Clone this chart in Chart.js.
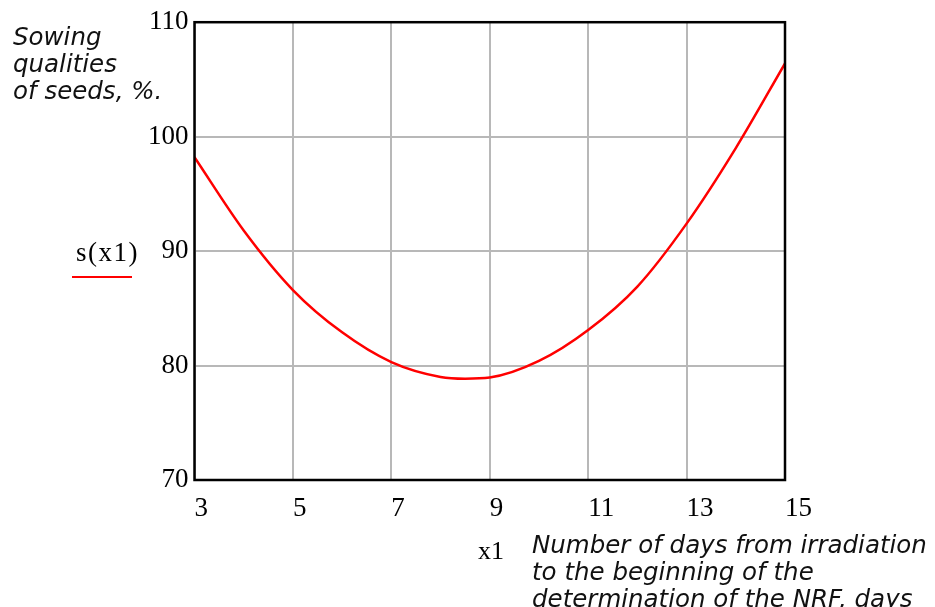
<!DOCTYPE html>
<html>
<head>
<meta charset="utf-8">
<script src="https://cdn.jsdelivr.net/npm/chart.js@4"></script>
<style>
  body { margin: 0; background: #fff; }
  #wrap { position: relative; width: 935px; height: 607px; overflow: hidden; }
  #chart { position: absolute; left: 0; top: 0; }
  .lbl { position: absolute; font-family: "DejaVu Sans", sans-serif; font-style: italic; font-size: 24.5px; line-height: 27px; color: #111; white-space: nowrap; }
  .serif { position: absolute; font-family: "Liberation Serif", serif; color: #000; white-space: nowrap; line-height: 1; }
  #legendLine { position: absolute; left: 72px; top: 276px; width: 60px; height: 2px; background: #ff0000; }
</style>
</head>
<body>
<div id="wrap">
  <canvas id="chart" width="935" height="607"></canvas>
  <div class="lbl" style="left:13px; top:23px;">Sowing<br>qualities<br>of seeds, %.</div>
  <div class="serif" style="left:76px; top:239px; font-size:27px; letter-spacing:1.5px;">s(x1)</div>
  <div id="legendLine"></div>
  <div class="serif" style="left:478px; top:538px; font-size:26px;">x1</div>
  <div class="lbl" style="left:532px; top:531px;">Number of days from irradiation<br>to the beginning of the<br>determination of the NRF, days</div>
</div>
<script>
// days from irradiation (x1) and sowing qualities s(x1), %
const days = [3, 4, 5, 6, 7, 8, 8.5, 9, 10, 11, 12, 13, 14, 15];
const sowing = [98.2, 91.8, 86.6, 82.9, 80.3, 79.0, 78.85, 78.95, 80.4, 83.1, 86.9, 92.4, 99.0, 106.4];

const xTicks = [3, 5, 7, 9, 11, 13, 15];
const yTicks = [70, 80, 90, 100, 110];

const points = days.map((d, i) => ({ x: d, y: sowing[i] }));

// black frame round the plot area
const frame = {
    id: "frame",
    afterDatasetsDraw(chart) {
        const { ctx, chartArea: a } = chart;
        ctx.save();
        ctx.strokeStyle = "#000";
        ctx.lineWidth = 2.5;
        ctx.strokeRect(a.left, a.top, a.right - a.left, a.bottom - a.top);
        ctx.restore();
    }
};

const tickFont = { family: "Liberation Serif", size: 27 };

new Chart(document.getElementById("chart").getContext("2d"), {
    type: "line",
    data: {
        datasets: [{
            data: points,
            borderColor: "#ff0000",
            borderWidth: 2.5,
            pointRadius: 0,
            fill: false,
            cubicInterpolationMode: "monotone"
        }]
    },
    options: {
        responsive: false,
        animation: false,
        layout: { padding: { left: 134.5, top: 21, right: 150, bottom: 0 } },
        plugins: { legend: { display: false }, tooltip: { enabled: false } },
        scales: {
            x: {
                type: "linear",
                min: 3,
                max: 15,
                afterFit: (s) => { s.height = 127; },
                afterBuildTicks: (s) => { s.ticks = xTicks.map(v => ({ value: v })); },
                grid: { color: "#b8b8b8", lineWidth: 2, drawTicks: false },
                border: { display: false },
                ticks: { font: tickFont, color: "#000", padding: 13, align: "start", maxRotation: 0 }
            },
            y: {
                min: 70,
                max: 110,
                afterFit: (s) => { s.width = 60; },
                afterBuildTicks: (s) => { s.ticks = yTicks.map(v => ({ value: v })); },
                grid: { color: "#b8b8b8", lineWidth: 2, drawTicks: false },
                border: { display: false },
                ticks: { font: tickFont, color: "#000", padding: 6 }
            }
        }
    },
    plugins: [frame]
});
</script>
</body>
</html>
